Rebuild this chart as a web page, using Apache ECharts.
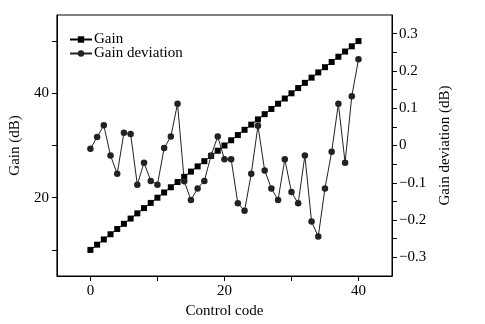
<!DOCTYPE html>
<html><head><meta charset="utf-8">
<script src="https://cdn.jsdelivr.net/npm/echarts@6/dist/echarts.min.js"></script>
<style>html,body{margin:0;padding:0;background:#fff}#c{width:485px;height:324px}</style>
</head><body><div id="c"></div>
<script>
const controlCode = [0,1,2,3,4,5,6,7,8,9,10,11,12,13,14,15,16,17,18,19,20,21,22,23,24,25,26,27,28,29,30,31,32,33,34,35,36,37,38,39,40];
const gain = [10,11,12,13,14,15,16,17,18,19,20,21,22,23,24,25,26,27,28,29,30,31,32,33,34,35,36,37,38,39,40,41,42,43,44,45,46,47,48,49,50];
const gainDeviation = [-0.009,0.023,0.054,-0.027,-0.076,0.034,0.031,-0.105,-0.046,-0.095,-0.105,-0.007,0.024,0.112,-0.096,-0.146,-0.115,-0.095,-0.027,0.024,-0.037,-0.037,-0.155,-0.175,-0.076,0.053,-0.067,-0.115,-0.146,-0.037,-0.125,-0.155,-0.027,-0.204,-0.244,-0.115,-0.017,0.112,-0.046,0.132,0.231];
const xTicks = [0,10,20,30,40];
const xLabels = [0,20,40];
const gainTicks = [10,20,30,40,50];
const gainLabels = [20,40];
const devTicks = [-0.3,-0.25,-0.2,-0.15,-0.1,-0.05,0,0.05,0.1,0.15,0.2,0.25,0.3];
const devLabels = [-0.3,-0.2,-0.1,0,0.1,0.2,0.3];

const FONT = 'Liberation Serif';
const txt = {fontFamily: FONT, fontSize: 15, color: '#000'};
const fmtDev = v => { const r = Math.round(v*10)/10; if (r === 0) return '0'; return (r < 0 ? '\u2212' : '') + Math.abs(r).toString(); };

const chart = echarts.init(document.getElementById('c'), null, {renderer: 'canvas'});
chart.setOption({
  animation: false,
  backgroundColor: '#fff',
  grid: {left: 55, right: 93, top: 15, bottom: 48, show: true, borderColor: '#000', borderWidth: 1, backgroundColor: 'transparent'},
  legend: {
    orient: 'vertical', left: 64, top: 27, itemGap: -1, itemWidth: 22, itemHeight: 8,
    textStyle: {fontFamily: FONT, fontSize: 15, color: '#000', padding: [0,0,0,-3]},
    data: ['Gain', 'Gain deviation']
  },
  xAxis: {
    type: 'value', min: -5, max: 45,
    name: 'Control code', nameLocation: 'middle', nameGap: 27, nameTextStyle: txt,
    axisLine: {show: true, onZero: false, lineStyle: {color: '#000', width: 1}},
    axisTick: {show: true, inside: false, length: 5, customValues: xTicks, lineStyle: {color: '#000'}},
    axisLabel: {customValues: xLabels, margin: 8, ...txt},
    splitLine: {show: false}
  },
  yAxis: [{
    type: 'value', min: 5, max: 55, position: 'left',
    name: 'Gain (dB)', nameLocation: 'middle', nameGap: 27, nameTextStyle: txt,
    axisLine: {show: true, onZero: false, lineStyle: {color: '#000', width: 1}},
    axisTick: {show: true, length: 5, customValues: gainTicks, lineStyle: {color: '#000'}},
    axisLabel: {customValues: gainLabels, margin: 8, ...txt},
    splitLine: {show: false}
  }, {
    type: 'value', min: -0.35, max: 0.35, position: 'right',
    name: 'Gain deviation (dB)', nameLocation: 'middle', nameGap: 45, nameRotate: 90, nameTextStyle: txt,
    axisLine: {show: true, onZero: false, lineStyle: {color: '#000', width: 1}},
    axisTick: {show: true, length: 5, customValues: devTicks, lineStyle: {color: '#000'}},
    axisLabel: {customValues: devLabels, margin: 7, formatter: fmtDev, ...txt},
    splitLine: {show: false}
  }],
  series: [{
    name: 'Gain', type: 'line', yAxisIndex: 0,
    data: controlCode.map((c, i) => [c, gain[i]]),
    symbol: 'rect', symbolSize: 6,
    itemStyle: {color: '#000'}, lineStyle: {color: '#000', width: 1}
  }, {
    name: 'Gain deviation', type: 'line', yAxisIndex: 1,
    data: controlCode.map((c, i) => [c, gainDeviation[i]]),
    symbol: 'circle', symbolSize: 6.5,
    itemStyle: {color: '#222'}, lineStyle: {color: '#222', width: 1}
  }]
});
</script></body></html>
